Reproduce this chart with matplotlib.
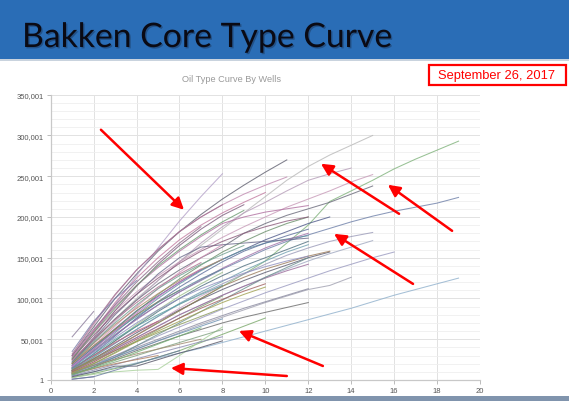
import matplotlib
matplotlib.use("Agg")
import matplotlib.pyplot as plt
from matplotlib.patches import Rectangle
from matplotlib.ticker import FixedLocator
import matplotlib.patheffects as pe
import numpy as np

# ---------------- data (values in thousands of barrels, x = month 1..n) ----------------
well_01 = [12, 25, 40, 55, 70, 85, 100, 115, 130, 146, 168, 190, 219, 232, 245, 259, 271, 282, 293]
well_02 = [15, 35, 55, 75, 92, 108, 122, 136, 148, 160, 170, 178, 186, 194, 201, 207, 212, 217, 224]
well_03 = [5, 10, 15, 21, 27, 33, 39, 46, 53, 60, 67, 74, 81, 88, 96, 104, 111, 118, 125]
well_04 = [25, 50, 75, 100, 122, 145, 165, 185, 205, 225, 245, 262, 276, 288, 300]
well_05 = [30, 65, 100, 130, 158, 182, 203, 222, 239, 255, 270]
well_06 = [25, 58, 93, 128, 162, 195, 225, 253]
well_07 = [20, 45, 72, 98, 122, 145, 168, 188, 205, 218, 232, 245, 253, 260]
well_08 = [28, 58, 85, 108, 128, 145, 160, 175, 188, 200, 212, 222, 232, 243, 252]
well_09 = [22, 48, 75, 98, 118, 135, 150, 163, 180, 192, 202, 210, 218, 228, 238]
well_10 = [18, 40, 63, 85, 103, 120, 135, 148, 160, 172, 182, 192, 200]
well_11 = [12, 28, 45, 62, 78, 93, 106, 118, 130, 142, 153, 162, 170, 176, 181]
well_12 = [10, 24, 38, 52, 66, 80, 92, 104, 115, 126, 136, 146, 155, 163, 171]
well_13 = [8, 18, 30, 42, 54, 65, 76, 87, 97, 107, 116, 125, 134, 142, 150, 157]
well_14 = [8, 18, 28, 38, 48, 58, 68, 77, 86, 95, 103, 111, 116, 126]
well_15 = [12, 26, 42, 58, 72, 86, 99, 111, 122, 132, 141, 150, 157]
well_16 = [15, 36, 58, 80, 100, 118, 134, 148, 160, 168, 173, 177]
well_17 = [20, 50, 80, 105, 130, 150, 163, 166, 168, 170, 172, 174]
well_18 = [10, 20, 30, 40, 50, 60, 70, 79, 88, 96, 104, 112]
well_19 = [7, 16, 26, 36, 45, 54, 62, 70, 77, 83, 89, 95]
well_20 = [30, 68, 104, 135, 160, 182, 200, 215, 228, 239, 249]
well_21 = [3, 8, 14, 20, 28, 36, 46, 56, 66, 76]
well_22 = [3, 7, 10, 12, 13, 30, 48, 65]
well_23 = [53, 84]
well_24 = [1, 4]
well_25 = [32, 70, 105, 135, 160, 182, 200, 215]
well_26 = [25, 60, 95, 125, 150, 172, 190, 205, 218, 230]
well_27 = [22, 52, 85, 115, 142, 165, 185, 202, 215]
well_28 = [30, 62, 92, 120, 145, 168, 188]
well_29 = [18, 42, 66, 90, 112, 132, 150, 166]
well_30 = [15, 38, 62, 84, 105, 124, 141, 157, 170, 182, 192, 200]
well_31 = [20, 45, 68, 88, 106, 122, 136, 148]
well_32 = [12, 32, 54, 76, 96, 114, 130, 145, 158, 168, 177, 185]
well_33 = [16, 36, 56, 74, 92, 108, 123, 137, 150, 162, 172, 180]
well_34 = [10, 28, 48, 68, 86, 103, 118, 132]
well_35 = [14, 30, 48, 66, 84, 100, 115, 128, 140, 150, 160, 170]
well_36 = [9, 22, 38, 55, 72, 88, 103, 116]
well_37 = [13, 28, 45, 62, 78, 94, 108, 121, 134, 146, 157, 166]
well_38 = [24, 50, 74, 95, 114, 130, 144]
well_39 = [20, 42, 62, 80, 96, 110]
well_40 = [8, 20, 34, 48, 62, 76, 90, 103]
well_41 = [11, 24, 38, 52, 66, 80, 92, 104, 115, 125, 134, 142]
well_42 = [6, 16, 28, 42, 56, 70, 84, 98, 112, 126, 138, 150]
well_43 = [12, 24, 36, 47, 58, 68, 78, 88]
well_44 = [9, 18, 28, 38, 48, 57, 66, 75]
well_45 = [6, 14, 22, 30, 38, 46, 54, 62]
well_46 = [5, 12, 19, 26, 33, 40, 47, 53]
well_47 = [10, 18, 25, 32, 38, 44, 50]
well_48 = [8, 14, 20, 25, 30]
well_49 = [4, 10, 17, 17, 25, 33, 40, 48]
well_50 = [1, 4, 12, 20, 28, 36]
well_51 = [14, 30, 46, 60, 72]
well_52 = [18, 40, 60, 78, 95, 110, 124, 136]
well_53 = [26, 55, 82, 105, 125, 143, 158, 170, 180, 188, 195, 200]
well_54 = [35, 72, 100, 122]
well_55 = [12, 26, 40, 55, 70, 85, 100, 115, 126, 136, 144, 152, 158]
well_56 = [28, 60, 90, 116, 138, 158, 176, 192, 200, 206, 210, 214]
well_57 = [22, 46, 70, 92, 112, 128, 142, 154, 165]
well_58 = [16, 34, 52, 70, 86, 100, 112, 122, 131, 139, 146, 152]
well_59 = [10, 22, 36, 50, 63, 76, 88, 99, 109, 118]
well_60 = [26, 58, 88, 116, 140, 160, 178, 194, 208]
well_61 = [14, 32, 50, 66, 80, 93, 105, 116]
well_62 = [9, 20, 33, 47, 60, 72, 84, 95, 105, 114]
well_63 = [17, 38, 60, 82, 102, 120, 136]
well_64 = [7, 15, 24, 34, 44, 54, 64]

wells = [well_01, well_02, well_03, well_04, well_05, well_06, well_07, well_08, well_09, well_10,
         well_11, well_12, well_13, well_14, well_15, well_16, well_17, well_18, well_19, well_20,
         well_21, well_22, well_23, well_24, well_25, well_26, well_27, well_28, well_29, well_30,
         well_31, well_32, well_33, well_34, well_35, well_36, well_37, well_38, well_39, well_40,
         well_41, well_42, well_43, well_44, well_45, well_46, well_47, well_48, well_49, well_50,
         well_51, well_52, well_53, well_54, well_55, well_56, well_57, well_58, well_59, well_60,
         well_61, well_62, well_63, well_64]

colors = ['#7fb27a', '#6d7fa8', '#8fb0cc', '#b8b8b8', '#5f5f6f', '#b3a0c8', '#b59cb8', '#c79ab8',
          '#6a6a7a', '#4f5a8a', '#9a9ab8', '#a0a8c0', '#9a9ac0', '#a0a0b0', '#5a5a70', '#5f8fa0',
          '#6a6a8a', '#8a8aa0', '#6a6a6a', '#c08ab0', '#7aa86a', '#a8d09a', '#8a7a9a', '#6a6a9a',
          '#a0708f', '#c27ba0', '#7d5c7d', '#8e6c8a', '#d18fb5', '#6a8f6a', '#b08a6a', '#5c6e9a',
          '#a070a8', '#9bbf8a', '#4f6f7f', '#c9a0c0', '#6f9faf', '#aa6f8f', '#8f7f4f', '#7a9a6b',
          '#9a6a9a', '#6b8e8e', '#8a9a5a', '#6a8fb0', '#7fa07f', '#8a8ab0', '#a08a70', '#b08060',
          '#555566', '#6a7aa0', '#c06080', '#5a8a9a', '#8a5a7a', '#7a7aa8', '#9a7a5a', '#b070a0',
          '#70a090', '#9090c0', '#a06060', '#6a9a70', '#5aa0a0', '#a0a050', '#c070c0', '#70b070']

arrow_tails = [(2.34, 307000), (16.23, 203900), (18.7, 183000), (16.88, 117900), (12.68, 17200), (11.0, 4900)]
arrow_heads = [(6.21, 208800), (12.59, 265300), (15.71, 239500), (13.2, 179300), (8.77, 60200), (5.6, 14700)]

y_ticks = [1, 50001, 100001, 150001, 200001, 250001, 300001, 350001]
x_ticks = [0, 2, 4, 6, 8, 10, 12, 14, 16, 18, 20]

# ---------------- figure ----------------
W, H = 569, 402
fig = plt.figure(figsize=(W / 100, H / 100), dpi=100)
fig.patch.set_facecolor('white')

def fx(px):
    return px / W

def fy(py):
    return 1 - py / H

# header band
fig.patches.append(Rectangle((0, fy(60)), 1, 60 / H, transform=fig.transFigure,
                             facecolor='#2a6db6', edgecolor='none', zorder=0))
fig.patches.append(Rectangle((0, fy(62)), 1, 2 / H, transform=fig.transFigure,
                             facecolor='#c9d3de', edgecolor='none', zorder=0))
# bottom band
fig.patches.append(Rectangle((0, 0), 1, 5 / H, transform=fig.transFigure,
                             facecolor='#8094ad', edgecolor='none', zorder=0))

fig.text(fx(22), fy(48), 'Bakken Core Type Curve', family='Lato', fontsize=24.3,
         color='#0a0a14', va='baseline', ha='left',
         path_effects=[pe.withSimplePatchShadow(offset=(1, -1), shadow_rgbFace='#1a3050', alpha=0.45)])

# date box
fig.patches.append(Rectangle((fx(429), fy(85.5)), (565.5 - 429) / W, 19.5 / H,
                             transform=fig.transFigure, facecolor='white',
                             edgecolor='#ff0000', linewidth=1.6, zorder=2))
fig.text(fx(497), fy(76), 'September 26, 2017', family='Liberation Sans', fontsize=9.3,
         color='#ff0000', ha='center', va='center', zorder=3)

fig.text(fx(231), fy(80), 'Oil Type Curve By Wells', family='Liberation Sans', fontsize=6.6,
         color='#9a9a9a', ha='center', va='center')

ax = fig.add_axes([fx(50.7), fy(381), (480 - 50.7) / W, (381 - 95.7) / H])
ax.set_facecolor('none')

for vals, c in zip(wells, colors):
    xs = np.arange(1, len(vals) + 1)
    ax.plot(xs, np.array(vals) * 1000, color=c, lw=0.75, alpha=0.8, zorder=3)

for (tx, ty), (hx, hy) in zip(arrow_tails, arrow_heads):
    ax.annotate('', xy=(hx, hy), xytext=(tx, ty), annotation_clip=False,
                arrowprops=dict(arrowstyle='-|>,head_length=0.7,head_width=0.35',
                                color='#ff0000', lw=1.8, shrinkA=0, shrinkB=0),
                zorder=5)

ax.set_xlim(0, 20)
ax.set_ylim(1, 350001)
ax.set_xticks(x_ticks)
ax.set_yticks(y_ticks)
ax.set_yticklabels([f'{v:,}' for v in y_ticks])
ax.yaxis.set_minor_locator(FixedLocator([1 + 10000 * k for k in range(36) if k % 5 != 0]))
ax.grid(True, which='major', color='#e2e2e2', lw=0.7, zorder=0)
ax.grid(True, which='minor', axis='y', color='#efefef', lw=0.6, zorder=0)
ax.tick_params(axis='both', which='major', labelsize=5.5, labelcolor='#555555',
               color='#bbbbbb', length=3, width=0.7, pad=2)
ax.tick_params(axis='y', which='minor', length=0)
for s in ['top', 'right']:
    ax.spines[s].set_visible(False)
for s in ['left', 'bottom']:
    ax.spines[s].set_color('#c8c8c8')
    ax.spines[s].set_linewidth(0.9)
for lab in ax.get_xticklabels() + ax.get_yticklabels():
    lab.set_family('Liberation Sans')

fig.savefig('out.png', dpi=100)
